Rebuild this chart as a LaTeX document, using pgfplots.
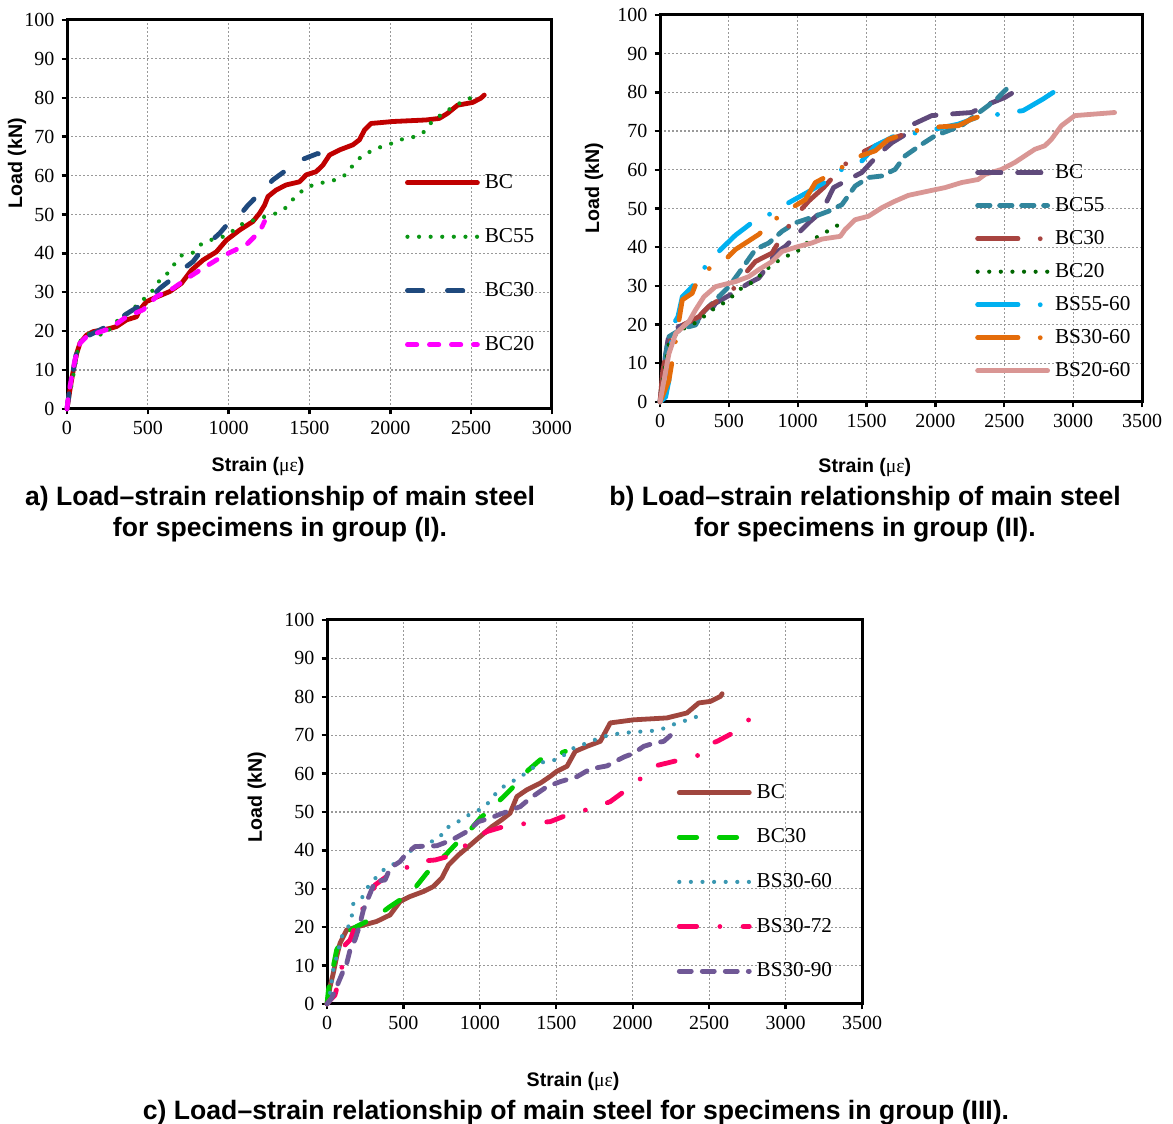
\documentclass[border=0pt]{standalone}
\usepackage{fontspec}
\setmainfont{Liberation Serif}
\newfontfamily\lsans{Liberation Sans}
\usepackage{pgfplots}
\pgfplotsset{compat=1.18}

% group I
\definecolor{aBC}{RGB}{192,0,0}
\definecolor{aBCff}{RGB}{10,150,20}
\definecolor{aBCtt}{RGB}{31,73,125}
\definecolor{aBCtw}{RGB}{255,0,255}
% group II
\definecolor{bBC}{RGB}{96,74,123}
\definecolor{bBCff}{RGB}{49,133,156}
\definecolor{bBCtt}{RGB}{168,68,64}
\definecolor{bBCtw}{RGB}{0,102,0}
\definecolor{bSff}{RGB}{0,176,240}
\definecolor{bStt}{RGB}{228,108,10}
\definecolor{bStw}{RGB}{217,150,148}
% group III
\definecolor{cBC}{RGB}{160,70,62}
\definecolor{cBCtt}{RGB}{0,204,0}
\definecolor{cSsix}{RGB}{58,152,178}
\definecolor{cSsev}{RGB}{255,0,102}
\definecolor{cSnin}{RGB}{112,88,150}

\newcommand{\labfont}{\lsans\bfseries\fontsize{9.8}{12}\selectfont}
\newcommand{\capfont}{\lsans\bfseries\fontsize{13.3}{15.5}\selectfont}

\pgfplotsset{
  loadstrain/.style={
    scale only axis, clip=false, enlargelimits=false,
    xmin=0, ymin=0, ymax=100, ytick={0,10,...,100},
    grid=major,
    major grid style={gray!80, line width=0.6pt, dash pattern=on 0.8pt off 1.2pt},
    axis line style={line width=1.5pt},
    tick align=outside, tick pos=left, major tick length=2.75pt,
    tick style={line width=1.2pt, black},
    /pgf/number format/assume math mode=true,
    /pgf/number format/1000 sep={},
    tick label style={font=\fontsize{10}{12}\selectfont},
    xlabel style={font=\labfont, anchor=center},
    ylabel style={font=\labfont, anchor=center},
    legend style={draw=none, fill=none, inner sep=0pt, outer sep=0pt,
      anchor=north west, font=\fontsize{10.6}{12}\selectfont,
      nodes={inner sep=0pt, text height=7.5pt, text depth=2pt},
      column sep=2.5pt},
    legend cell align=left,
    legend image code/.code={\draw[##1] (0pt,0pt) -- (35pt,0pt);},
    every axis plot/.append style={line width=2.4pt, line cap=round, line join=round},
  },
  dots/.style={dash pattern=on 0pt off 5.8pt, line width=2.1pt},
}

\begin{document}
\begin{tikzpicture}
\useasboundingbox (0,0) rectangle (586.5pt,562pt);

% ---------------- a) group I
\begin{axis}[loadstrain,
  at={(33.5pt,357.5pt)}, anchor=south west,
  width=242.5pt, height=194.5pt,
  xmax=3000, xtick={0,500,...,3000},
  xlabel={Strain ({\rmfamily\mdseries με})},
  ylabel={Load (kN)},
  xlabel style={at={(axis description cs:0.394,-0.149)}},
  ylabel style={at={(axis description cs:-0.103,0.632)}},
  legend style={at={(axis description cs:0.697,0.606)}, row sep=17.5pt},
]
\addplot[aBC] coordinates {(0,0) (18,4.9) (39,10) (60,14.3) (80,16.9) (121,19) (163,19.9) (265,20.7) (307,21.2) (368,22.9) (430,23.7) (450,25.5) (492,27.6) (533,28.4) (636,30.2) (708,32.3) (770,35.7) (842,38.3) (924,40.4) (986,43.4) (1068,46) (1150,48.2) (1191,50.3) (1222,52.4) (1243,54.6) (1294,56.3) (1356,57.6) (1438,58.4) (1480,60.2) (1541,61) (1583,62.7) (1624,65.3) (1686,66.6) (1768,67.9) (1809,69.2) (1840,71.7) (1881,73.4) (2015,73.9) (2221,74.3) (2303,74.7) (2354,76) (2416,78.1) (2509,78.8) (2560,79.9) (2581,80.7)};
\addplot[aBCff, dots] coordinates {(0,0) (18,4) (49,10.9) (70,16) (91,18.2) (142,19.5) (235,19) (276,21.2) (327,23.3) (389,25.2) (444,27) (496,29.1) (543,31) (580,33.6) (626,35) (667,37.4) (712,39.6) (780,40.2) (831,42.4) (900,43.6) (965,44.3) (1027,45.8) (1089,47.7) (1160,48.6) (1222,49.4) (1294,50.3) (1356,51.8) (1404,54.2) (1455,56.1) (1521,57.6) (1593,58.3) (1661,58.9) (1723,60.2) (1768,62.6) (1820,64.9) (1881,66.3) (1943,67.4) (2011,68.3) (2077,69.4) (2153,70) (2211,71.3) (2256,73.8) (2313,75.6) (2375,77.3) (2437,78.8) (2499,80)};
\addplot[aBCtt, dash pattern=on 7.7pt off 12.3pt] coordinates {(0,0) (18,5.7) (39,10) (60,14.8) (80,16.9) (121,18.6) (183,19.9) (265,21.6) (327,23.3) (389,25) (450,26.5) (523,28.9) (574,31) (626,32.7) (687,35) (780,37.9) (842,41.3) (945,45.2) (1007,48.2) (1068,49.8) (1120,52.4) (1191,55.4) (1274,58.9) (1356,61.4) (1459,64.2) (1552,65.7) (1593,64.2)};
\addplot[aBCtw, dash pattern=on 4.7pt off 6.3pt] coordinates {(0,0) (8,3.2) (29,8.3) (49,12.6) (80,16.9) (121,18.6) (183,19.5) (265,20.7) (368,23.7) (471,25.5) (553,28.9) (656,31) (759,34) (842,36.2) (924,38.3) (1006,40.2) (1109,42.2) (1191,45.6) (1222,48.2)};
\legend{BC, BC55, BC30, BC20}
\end{axis}

% ---------------- b) group II
\begin{axis}[loadstrain,
  at={(330pt,361pt)}, anchor=south west,
  width=241pt, height=193.5pt,
  xmax=3500, xtick={0,500,...,3500},
  xlabel={Strain ({\rmfamily\mdseries με})},
  ylabel={Load (kN)},
  xlabel style={at={(axis description cs:0.425,-0.168)}},
  ylabel style={at={(axis description cs:-0.137,0.553)}},
  legend style={at={(axis description cs:0.654,0.617)}, row sep=7pt},
]
\addplot[bBC, dash pattern=on 11.7pt off 8.3pt] coordinates {(0,0) (20,6) (40,12) (65,17.7) (138,19.5) (234,20.8) (355,22.9) (403,25.5) (500,27.5) (645,30.7) (717,32) (780,35) (838,38.5) (910,40.2) (1007,43.7) (1079,46.3) (1150,48.5) (1200,51) (1260,55.4) (1369,57.5) (1466,59.3) (1587,64) (1684,67) (1804,69.6) (1840,71.8) (1973,74) (2106,74.4) (2263,74.8) (2360,76.6) (2505,78.7) (2565,80) (2589,80.9)};
\addplot[bBCff, dash pattern=on 6.2pt off 4.8pt] coordinates {(0,0) (20,6) (40,12) (65,16.9) (162,19) (258,19.9) (307,22.9) (403,26.4) (500,29.8) (572,33.3) (693,39.4) (790,41.1) (886,44.1) (983,46.3) (1128,48) (1224,49.3) (1321,51) (1417,55.8) (1514,58) (1611,58.4) (1707,60.1) (1780,63.6) (1901,66.6) (1997,68.8) (2094,70.1) (2190,71.4) (2287,74) (2384,76.6) (2456,78.7) (2517,80.9)};
\addplot[bBCtt, dash pattern=on 20.2pt off 11.1pt on 0pt off 11.1pt] coordinates {(0,0) (20,8) (53,14.3) (114,19) (200,20.5) (280,22) (355,24.7) (428,26.4) (500,27.7) (621,33.3) (693,36.3) (814,38.5) (886,42.8) (983,48) (1079,51.9) (1188,55.4) (1280,59) (1369,62.3) (1490,64.9) (1611,67) (1804,69.6)};
\addplot[bBCtw, dots] coordinates {(0,0) (20,5) (41,10) (65,15.1) (140,18.5) (234,19.9) (319,22.1) (379,23.8) (440,25.1) (500,26.4) (572,29) (645,30.3) (717,32.4) (814,35.5) (910,37.6) (983,38.5) (1079,41.5) (1152,42.8) (1224,44.3) (1297,45.8) (1357,47.1)};
\addplot[bSff, dash pattern=on 20.2pt off 11.1pt on 0pt off 11.1pt] coordinates {(0,0) (41,1.3) (65,5.6) (77,14.3) (101,20.3) (130,22) (162,27.2) (234,29.8) (283,33.3) (331,35) (440,39.4) (548,43.1) (681,46.7) (790,48.4) (910,51) (1067,54.1) (1212,57.1) (1290,59.5) (1369,61) (1466,62.3) (1563,66.2) (1707,68.8) (1877,69.6) (1997,70.5) (2166,71.8) (2299,73.5) (2468,74.4) (2637,75.3) (2782,78.3) (2855,80)};
\addplot[bStt, dash pattern=on 20.2pt off 11.1pt on 0pt off 11.1pt] coordinates {(0,0) (65,5.6) (138,21.2) (162,26.4) (234,28.1) (258,30.3) (343,34.2) (476,36.8) (548,39.4) (717,43.3) (814,46.7) (959,50.2) (1055,52.3) (1128,56.7) (1285,59.7) (1417,63.1) (1563,64.9) (1659,67.9) (1804,69.6) (1949,70.9) (2166,71.4) (2263,73.1) (2408,74.8)};
\addplot[bStw] coordinates {(0,0) (29,5.6) (65,12.5) (114,17.7) (210,20.8) (258,23.8) (319,27.2) (403,29.8) (548,31.1) (645,32.4) (717,34.2) (814,36.3) (886,38.9) (1007,40.2) (1104,41.1) (1176,42.1) (1309,42.8) (1345,44.6) (1417,47.1) (1514,48) (1611,50.2) (1707,51.9) (1804,53.4) (1949,54.5) (2070,55.4) (2190,56.7) (2311,57.5) (2360,58.8) (2480,60.1) (2577,61.9) (2649,63.6) (2722,65.3) (2794,66.2) (2843,67.9) (2915,71.4) (3012,74) (3156,74.4) (3301,74.8)};
\legend{BC, BC55, BC30, BC20, BS55-60, BS30-60, BS20-60}
\end{axis}

% ---------------- c) group III
\begin{axis}[loadstrain,
  at={(163.5pt,60pt)}, anchor=south west,
  width=267.5pt, height=192pt,
  xmax=3500, xtick={0,500,...,3500},
  xlabel={Strain ({\rmfamily\mdseries με})},
  ylabel={Load (kN)},
  xlabel style={at={(axis description cs:0.46,-0.203)}},
  ylabel style={at={(axis description cs:-0.131,0.539)}},
  legend style={at={(axis description cs:0.654,0.575)}, row sep=12.8pt},
]
\addplot[cBC] coordinates {(0,0) (20,4.5) (41,8) (63,12.3) (85,15.8) (129,19.3) (216,20.3) (325,21.5) (413,23.2) (478,26.7) (544,28) (631,29.3) (696,30.6) (751,32.8) (795,36.2) (860,38.8) (926,41) (1002,43.6) (1079,46.2) (1144,48) (1198,49.7) (1242,54) (1308,55.8) (1395,57.5) (1461,59.3) (1504,60.6) (1570,61.9) (1624,65.8) (1701,67.1) (1788,68.4) (1853,73.2) (2006,74) (2224,74.5) (2355,75.8) (2432,78.4) (2508,78.8) (2574,80.1) (2585,80.8)};
\addplot[cBCtt, dash pattern=on 8.7pt off 11.3pt] coordinates {(0,0) (9,3.6) (41,9.7) (63,14.1) (118,18.4) (194,20.2) (325,22.8) (413,25.4) (478,27.1) (565,29.7) (653,34.1) (718,36.7) (780,39) (849,41.9) (930,45) (1002,48.4) (1067,50.6) (1155,54) (1220,56.6) (1308,60.6) (1395,63.6) (1480,64.5) (1559,65.8)};
\addplot[cSsix, dots] coordinates {(0,0) (20,2.8) (41,8.9) (63,12.3) (96,17.5) (140,20.2) (162,22.8) (172,26.1) (227,27.5) (260,30.1) (347,34.2) (413,36.2) (478,36.8) (533,39.7) (600,40.6) (664,41.9) (740,43.4) (767,45.6) (838,46.9) (900,48.7) (969,50) (1030,51.3) (1078,53.4) (1118,55.6) (1181,57.3) (1242,58.6) (1308,60.3) (1373,62.3) (1439,63.4) (1515,63.6) (1570,65.5) (1631,67.1) (1701,67.9) (1770,69.1) (1842,70) (1923,70.5) (2000,70.8) (2078,71) (2152,71.2) (2225,72) (2294,73.3) (2366,74) (2436,75.1)};
\addplot[cSsev, dash pattern=on 8.7pt off 11.6pt on 0pt off 11.6pt] coordinates {(0,0) (20,1) (52,2.3) (96,8.9) (107,14.9) (151,16.7) (216,23.6) (293,28.8) (314,31) (400,33.5) (478,34.5) (587,37.1) (707,37.5) (780,38.3) (849,39.3) (947,42.7) (1046,44.9) (1198,46.7) (1352,47.1) (1461,47.5) (1602,49.7) (1744,51) (1853,52.7) (1973,56.2) (2083,59.7) (2137,61.9) (2312,63.6) (2443,64.9) (2486,67.5) (2552,68.4) (2661,70.7) (2759,74) (2868,74.9)};
\addplot[cSnin, dash pattern=on 6pt off 5.5pt] coordinates {(0,0) (30,1.5) (63,4.5) (100,8) (129,10.6) (151,14.1) (183,16.7) (210,20) (238,24.5) (282,28.8) (314,31.9) (380,32.3) (413,35.4) (478,37.1) (522,39.3) (576,41) (718,41.2) (816,42.7) (915,44.9) (991,47.5) (1067,48.4) (1177,50.1) (1264,51.4) (1330,53.6) (1439,56.6) (1526,57.9) (1635,59.2) (1722,61.2) (1831,62) (1941,64.3) (2006,65.3) (2072,67.1) (2137,67.9) (2203,68.4) (2246,69.9)};
\legend{BC, BC30, BS30-60, BS30-72, BS30-90}
\end{axis}

% captions
\node[font=\capfont, align=center] at (140pt,305pt) {a) Load–strain relationship of main steel\\for specimens in group (I).};
\node[font=\capfont, align=center] at (432.5pt,305pt) {b) Load–strain relationship of main steel\\for specimens in group (II).};
\node[font=\capfont, anchor=center] at (288pt,5.5pt) {c) Load–strain relationship of main steel for specimens in group (III).};
\end{tikzpicture}
\end{document}
